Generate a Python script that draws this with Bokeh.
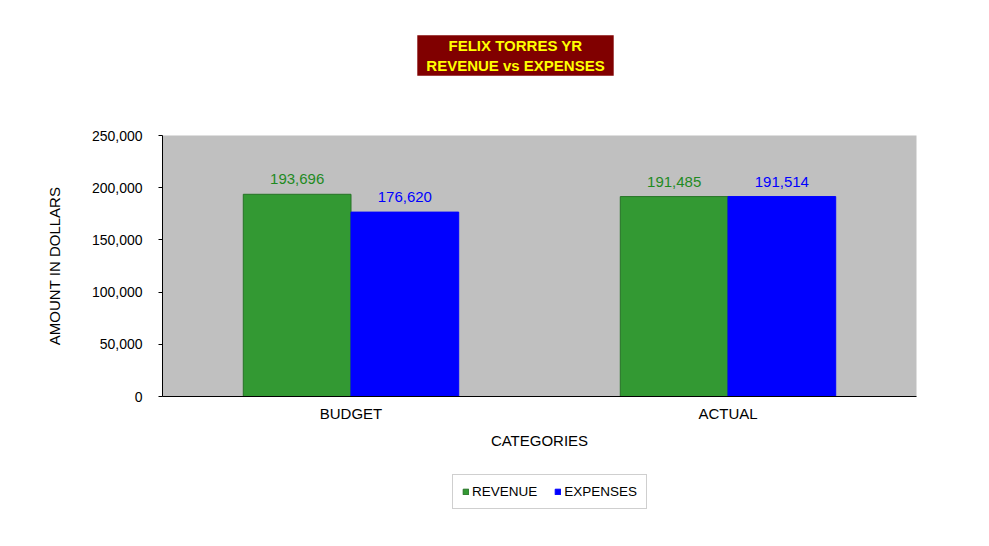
from bokeh.plotting import figure
from bokeh.layouts import column
from bokeh.models import (ColumnDataSource, FactorRange, Range1d, FixedTicker,
                          NumeralTickFormatter, Label, Legend, LegendItem, Grid)
from bokeh.transform import dodge
from bokeh.core.properties import value
from bokeh.embed import file_html
from bokeh.resources import INLINE

# ---- data ----
categories = ["BUDGET", "ACTUAL"]
revenue = [193696, 191485]
expenses = [176620, 191514]
y_ticks = [0, 50000, 100000, 150000, 200000, 250000]
series_names = ["REVENUE", "EXPENSES"]
title_lines = ["FELIX TORRES YR", "REVENUE vs EXPENSES"]
x_title = "CATEGORIES"
y_title = "AMOUNT IN DOLLARS"

FONT = "Liberation Sans"
GREEN = "#339933"
GREEN_EDGE = "#267326"
BLUE = "#0000FF"
GREEN_TXT = "#1F8A1F"
BAR_W = 0.2857
OFF = BAR_W / 2
W = 980


def blank_figure(height, x_range, y_range):
    f = figure(width=W, height=height, x_range=x_range, y_range=y_range,
               output_backend="svg", toolbar_location=None,
               x_axis_location=None, y_axis_location=None,
               min_border=0)
    f.outline_line_color = None
    f.background_fill_color = "white"
    f.border_fill_color = "white"
    for r in f.center:
        if isinstance(r, Grid):
            r.visible = False
    return f


source = ColumnDataSource(dict(
    cat=categories,
    revenue=revenue,
    expenses=expenses,
    rev_lbl=[f"{v:,}" for v in revenue],
    exp_lbl=[f"{v:,}" for v in expenses],
))

# ---- title strip (frame aligned with the chart's plot area) ----
tfig = blank_figure(100, Range1d(0, 1), Range1d(0, 1))
tfig.add_layout(Label(x=353, y=45, x_units="screen", y_units="screen",
                      text="\n".join(title_lines), text_align="center",
                      text_baseline="middle", text_font=FONT, text_font_style="bold",
                      text_font_size="15px", text_line_height=1.15,
                      text_color="#FFFF00", background_fill_color="#800000",
                      padding=(9, 2)))

# ---- main chart ----
p = figure(width=W, height=360,
           x_range=FactorRange(factors=categories, range_padding=0),
           y_range=Range1d(0, 250000),
           output_backend="svg", toolbar_location=None,
           min_border_left=162, min_border_right=64,
           min_border_top=35, min_border_bottom=64)

p.background_fill_color = "#C0C0C0"
p.border_fill_color = "white"
p.outline_line_color = None
p.xgrid.grid_line_color = None
p.ygrid.grid_line_color = None

p.vbar(x=dodge("cat", -OFF, range=p.x_range), top="revenue", width=BAR_W,
       source=source, fill_color=GREEN, line_color=GREEN_EDGE, line_width=1)
p.vbar(x=dodge("cat", OFF, range=p.x_range), top="expenses", width=BAR_W,
       source=source, fill_color=BLUE, line_color=BLUE, line_width=1)

p.text(x=dodge("cat", -OFF, range=p.x_range), y="revenue", text="rev_lbl", source=source,
       text_align="center", text_baseline="alphabetic", y_offset=-15,
       text_font=value(FONT), text_font_size="15px", text_color=GREEN_TXT)
p.text(x=dodge("cat", OFF, range=p.x_range), y="expenses", text="exp_lbl", source=source,
       text_align="center", text_baseline="alphabetic", y_offset=-15,
       text_font=value(FONT), text_font_size="15px", text_color="#0000FF")

# y axis
p.yaxis.ticker = FixedTicker(ticks=y_ticks)
p.yaxis.formatter = NumeralTickFormatter(format="0,0")
p.yaxis.major_tick_out = 4
p.yaxis.major_tick_in = 0
p.yaxis.minor_tick_line_color = None
p.yaxis.major_label_standoff = 16
p.yaxis.major_label_text_font = FONT
p.yaxis.major_label_text_font_size = "14px"
p.yaxis.major_label_text_color = "black"
p.yaxis.axis_line_color = "black"
p.yaxis.major_tick_line_color = "black"
p.yaxis.axis_label = y_title
p.yaxis.axis_label_standoff = 26
p.yaxis.axis_label_text_font = FONT
p.yaxis.axis_label_text_font_style = "normal"
p.yaxis.axis_label_text_font_size = "15px"
p.yaxis.axis_label_text_color = "black"

# x axis
p.xaxis.major_tick_line_color = None
p.xaxis.major_label_standoff = 2
p.xaxis.major_label_text_font = FONT
p.xaxis.major_label_text_font_size = "15px"
p.xaxis.major_label_text_color = "black"
p.xaxis.axis_line_color = "black"
p.xaxis.axis_label = x_title
p.xaxis.axis_label_standoff = 7
p.xaxis.axis_label_text_font = FONT
p.xaxis.axis_label_text_font_style = "normal"
p.xaxis.axis_label_text_font_size = "15px"
p.xaxis.axis_label_text_color = "black"

# ---- legend strip: hidden key renderers (legend keys only) ----
lfig = blank_figure(76, FactorRange(factors=categories), Range1d(-2, -1))
k1 = lfig.vbar(x="cat", top="revenue", width=0.1, source=source,
               fill_color=GREEN, line_color=GREEN_EDGE)
k2 = lfig.vbar(x="cat", top="expenses", width=0.1, source=source,
               fill_color=BLUE, line_color=BLUE)
k1.visible = False
k2.visible = False
legend = Legend(items=[LegendItem(label=series_names[0], renderers=[k1]),
                       LegendItem(label=series_names[1], renderers=[k2])],
                orientation="horizontal", location=(290, 27))
legend.label_text_font = FONT
legend.label_text_font_size = "13.5px"
legend.label_text_color = "black"
legend.glyph_width = 7
legend.glyph_height = 7
legend.label_standoff = 3
legend.spacing = 17
legend.padding = 9
legend.margin = 0
legend.label_height = 14
legend.inactive_fill_alpha = 0
legend.border_line_color = "#A0A0A0"
legend.background_fill_color = "white"
legend.background_fill_alpha = 1
lfig.add_layout(legend)

layout = column(tfig, p, lfig, spacing=0)
open("out.html", "w").write(file_html(layout, INLINE))
